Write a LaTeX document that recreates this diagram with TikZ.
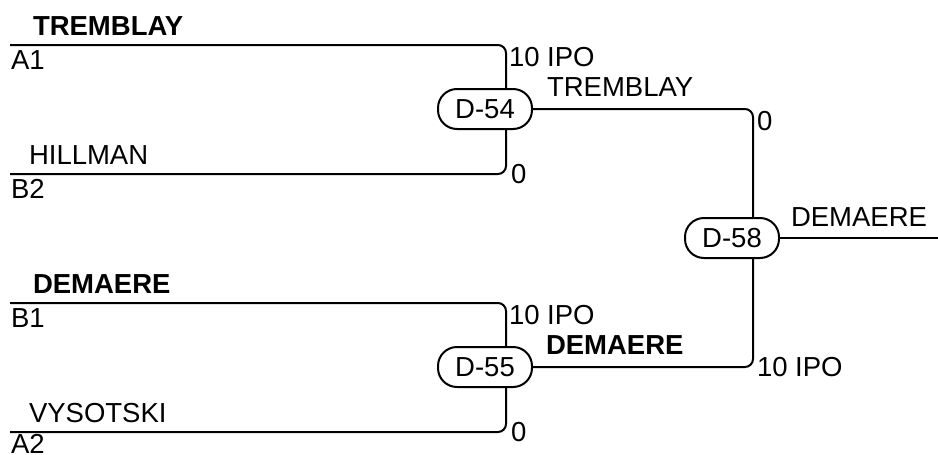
\documentclass[tikz,border=0pt]{standalone}
\usepackage{fontspec}
\setmainfont{Liberation Sans}
\newcommand{\bracketfont}{\fontsize{27.5}{32}\selectfont}

\begin{document}
\begin{tikzpicture}[x=1pt,y=-1pt,line width=2pt,font=\bracketfont,
    game/.style={draw,rounded corners=19pt,minimum width=94pt,minimum height=40pt,inner sep=0pt},
    lbl/.style={anchor=base west,inner sep=0pt}]
    \useasboundingbox (0,0) rectangle (938,455);

    \node[game] (D54) at (485,109) {D-54};
    \node[game] (D55) at (485,367) {D-55};
    \node[game] (D58) at (732,238) {D-58};

    \coordinate (A1) at ( 10, 45);
    \coordinate (B2) at ( 10,174);
    \coordinate (B1) at ( 10,303);
    \coordinate (A2) at ( 10,432);
    \coordinate (J54) at (506,109);
    \coordinate (J55) at (506,367);
    \coordinate (J58) at (753,238);
    \coordinate (Out) at (940,238);

    \node[lbl] (TremblayA1) at ( 32, 35) {\textbf{TREMBLAY}};
    \node[lbl] (SeedA1) at ( 10, 69) {A1};
    \node[lbl] (HillmanB2) at ( 28,164) {HILLMAN};
    \node[lbl] (SeedB2) at ( 10,198) {B2};
    \node[lbl] (DemaereB1) at ( 32,293) {\textbf{DEMAERE}};
    \node[lbl] (SeedB1) at ( 10,327) {B1};
    \node[lbl] (VysotskiA2) at ( 28,422) {VYSOTSKI};
    \node[lbl] (SeedA2) at ( 10,453) {A2};

    \node[lbl] (ScoreA1) at (508, 66) {10 IPO};
    \node[lbl] (ScoreB2) at (510,183) {0};
    \node[lbl] (ScoreB1) at (508,324) {10 IPO};
    \node[lbl] (ScoreA2) at (510,441) {0};
    \node[lbl] (Win54) at (546, 96) {TREMBLAY};
    \node[lbl] (Win55) at (545,354) {\textbf{DEMAERE}};
    \node[lbl] (Score54) at (756,130) {0};
    \node[lbl] (Score55) at (756,376) {10 IPO};
    \node[lbl] (Win58) at (790,226) {DEMAERE};

    \begin{scope}[every path/.style={rounded corners=8pt}]
       \draw (A1) -| (J54 |- D54.north);
       \draw (B2) -| (J54 |- D54.south);
       \draw (B1) -| (J55 |- D55.north);
       \draw (A2) -| (J55 |- D55.south);
       \draw (D54.east) -| (J58 |- D58.north);
       \draw (D55.east) -| (J58 |- D58.south);
       \draw (D58.east) -- (Out);
    \end{scope}
\end{tikzpicture}
\end{document}
